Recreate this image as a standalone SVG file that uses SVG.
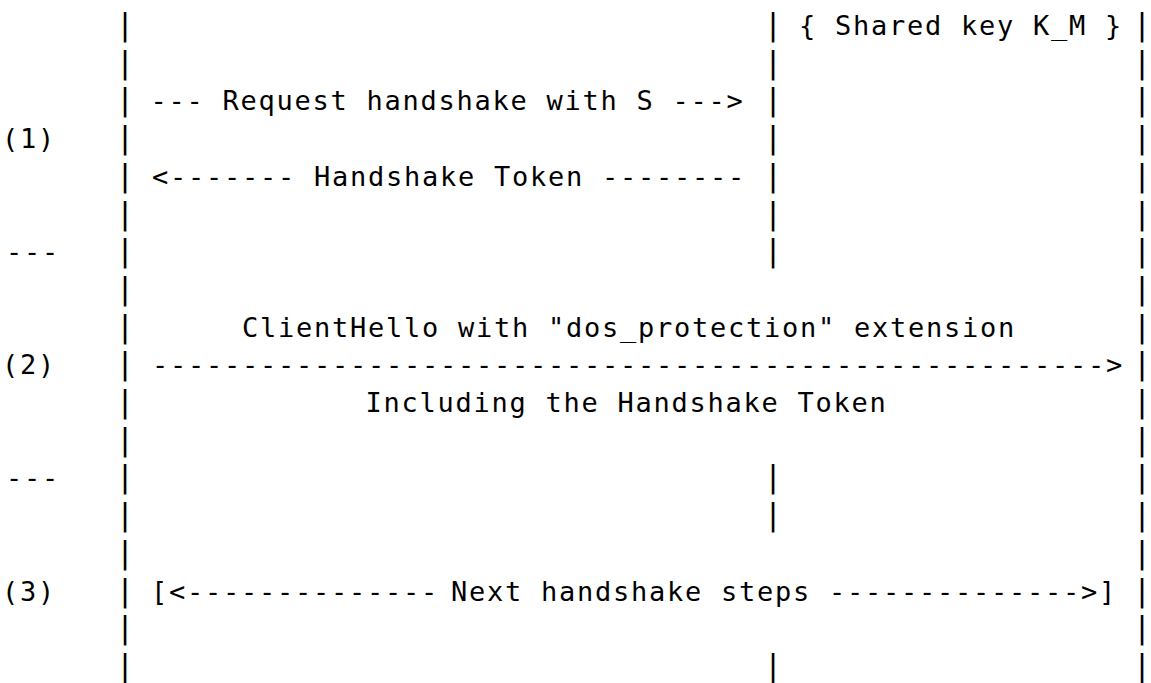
<svg xmlns="http://www.w3.org/2000/svg" width="1151" height="683" viewBox="0 0 1151 683">
<style>
.t{font-family:"DejaVu Sans Mono","Liberation Mono",monospace;font-size:27px;letter-spacing:1.745px;fill:#000}
.b{font-family:"DejaVu Sans Mono","Liberation Mono",monospace;font-size:30px;text-anchor:middle;fill:#000}
</style>
<rect width="1151" height="683" fill="#fff"/>
<g id="lifeline-client">
<text class="b" x="125" y="35">|</text><text class="b" x="125" y="72.7">|</text><text class="b" x="125" y="110.4">|</text><text class="b" x="125" y="148.1">|</text><text class="b" x="125" y="185.8">|</text><text class="b" x="125" y="223.5">|</text><text class="b" x="125" y="261.2">|</text><text class="b" x="125" y="298.9">|</text><text class="b" x="125" y="336.6">|</text><text class="b" x="125" y="374.3">|</text><text class="b" x="125" y="412">|</text><text class="b" x="125" y="449.7">|</text><text class="b" x="125" y="487.4">|</text><text class="b" x="125" y="525.1">|</text><text class="b" x="125" y="562.8">|</text><text class="b" x="125" y="600.5">|</text><text class="b" x="125" y="638.2">|</text><text class="b" x="125" y="675.9">|</text>
</g>
<g id="lifeline-middle">
<text class="b" x="773" y="35">|</text><text class="b" x="773" y="72.7">|</text><text class="b" x="773" y="110.4">|</text><text class="b" x="773" y="148.1">|</text><text class="b" x="773" y="185.8">|</text><text class="b" x="773" y="223.5">|</text><text class="b" x="773" y="261.2">|</text><text class="b" x="773" y="487.4">|</text><text class="b" x="773" y="525.1">|</text><text class="b" x="773" y="675.9">|</text>
</g>
<g id="lifeline-server">
<text class="b" x="1142" y="35">|</text><text class="b" x="1142" y="72.7">|</text><text class="b" x="1142" y="110.4">|</text><text class="b" x="1142" y="148.1">|</text><text class="b" x="1142" y="185.8">|</text><text class="b" x="1142" y="223.5">|</text><text class="b" x="1142" y="261.2">|</text><text class="b" x="1142" y="298.9">|</text><text class="b" x="1142" y="336.6">|</text><text class="b" x="1142" y="374.3">|</text><text class="b" x="1142" y="412">|</text><text class="b" x="1142" y="449.7">|</text><text class="b" x="1142" y="487.4">|</text><text class="b" x="1142" y="525.1">|</text><text class="b" x="1142" y="562.8">|</text><text class="b" x="1142" y="600.5">|</text><text class="b" x="1142" y="638.2">|</text><text class="b" x="1142" y="675.9">|</text>
</g>
<g id="shared-key">
<text class="t" x="799" y="35">{ Shared key K_M }</text>
</g>
<g id="step-labels">
<text class="t" x="2" y="148.1">(1)</text>
<text class="t" x="6" y="261.2">---</text>
<text class="t" x="2" y="374.3">(2)</text>
<text class="t" x="6" y="487.4">---</text>
<text class="t" x="2" y="600.5">(3)</text>
</g>
<g id="connectors">
<text class="t" x="150.5" y="110.4">--- Request handshake with S ---&gt;</text>
<text class="t" x="152" y="185.8">&lt;------- Handshake Token --------</text>
<text class="t" x="242" y="336.6">ClientHello with "dos_protection" extension</text>
<text class="t" x="152" y="374.3">-----------------------------------------------------&gt;</text>
<text class="t" x="365.5" y="412">Including the Handshake Token</text>
<text class="t" x="151" y="600.5">[&lt;--------------</text>
<text class="t" x="451" y="600.5">Next handshake steps --------------&gt;]</text>
</g>
</svg>
